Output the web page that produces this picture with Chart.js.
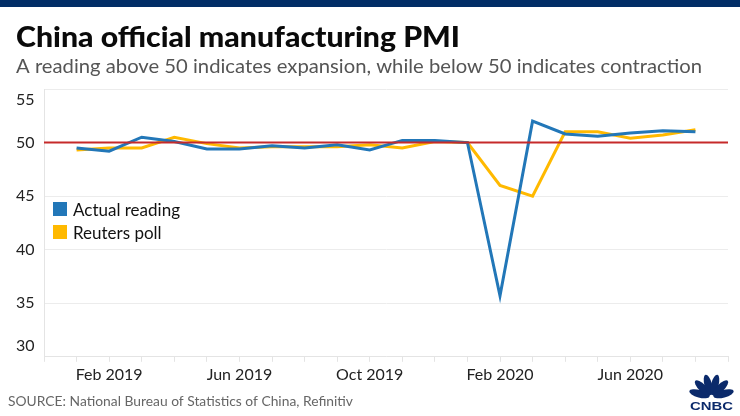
<!DOCTYPE html>
<html>
<head>
<meta charset="utf-8">
<script src="https://cdn.jsdelivr.net/npm/chart.js@4.4.1/dist/chart.umd.min.js"></script>
<style>
  html, body { margin: 0; padding: 0; background: #fff; }
  #wrap { position: relative; width: 740px; height: 416px; }
</style>
</head>
<body>
<div id="wrap"><canvas id="pmi" width="740" height="416"></canvas></div>
<script>
// months on the x axis (Dec 2018 and Sep 2020 are empty edges)
var months = ['Dec 2018','Jan 2019','Feb 2019','Mar 2019','Apr 2019','May 2019','Jun 2019','Jul 2019',
  'Aug 2019','Sep 2019','Oct 2019','Nov 2019','Dec 2019','Jan 2020','Feb 2020','Mar 2020',
  'Apr 2020','May 2020','Jun 2020','Jul 2020','Aug 2020','Sep 2020'];

var actualReading = [null, 49.5, 49.2, 50.5, 50.1, 49.4, 49.4, 49.7, 49.5, 49.8, 49.3, 50.2,
  50.2, 50.0, 35.7, 52.0, 50.8, 50.6, 50.9, 51.1, 51.0, null];

var reutersPoll = [null, 49.3, 49.5, 49.5, 50.5, 49.9, 49.5, 49.6, 49.6, 49.6, 49.8, 49.5,
  50.1, 50.0, 46.0, 45.0, 51.0, 51.0, 50.4, 50.7, 51.2, null];

var yTicks = [30, 35, 40, 45, 50, 55];
var threshold = 50;

var blue = '#2277b8';
var yellow = '#ffb900';
var red = '#c62a2a';

function fitText(ctx, txt, x, y, w) {
  var m = ctx.measureText(txt).width;
  ctx.save();
  ctx.translate(x, y);
  ctx.scale(w / m, 1);
  ctx.fillText(txt, 0, 0);
  ctx.restore();
}

// title, source, logo, y labels, legend, the red 50 line
var decor = {
  id: 'decor',
  afterDatasetsDraw: function(chart) {
    var ctx = chart.ctx, a = chart.chartArea, y = chart.scales.y;
    var py = y.getPixelForValue(threshold);
    ctx.save();
    ctx.strokeStyle = red;
    ctx.lineWidth = 2;
    ctx.beginPath();
    ctx.moveTo(a.left, py);
    ctx.lineTo(a.right, py);
    ctx.stroke();
    ctx.restore();
  },
  afterDraw: function(chart) {
    var ctx = chart.ctx, a = chart.chartArea, y = chart.scales.y;
    ctx.save();
    ctx.fillStyle = '#022d66';
    ctx.fillRect(0, 0, 740, 7);

    ctx.textBaseline = 'alphabetic';
    ctx.fillStyle = '#0a0a0a';
    ctx.font = '900 28px Lato';
    fitText(ctx, 'China official manufacturing PMI', 16, 47, 444);
    ctx.fillStyle = '#555';
    ctx.font = '19px Lato';
    fitText(ctx, 'A reading above 50 indicates expansion, while below 50 indicates contraction', 16, 73, 686);
    ctx.fillStyle = '#666';
    ctx.font = '13px Lato';
    fitText(ctx, 'SOURCE: National Bureau of Statistics of China, Refinitiv', 8, 406, 345);

    // y labels, kept inside the plot at the edges
    ctx.fillStyle = '#222';
    ctx.font = '16px Lato';
    ctx.textBaseline = 'middle';
    ctx.textAlign = 'left';
    yTicks.forEach(function(v) {
      var p = y.getPixelForValue(v);
      p = Math.min(Math.max(p, a.top + 11), a.bottom - 11);
      ctx.fillText(String(v), 16, p);
    });

    // legend
    ctx.font = '17px Lato';
    ctx.textBaseline = 'alphabetic';
    chart.data.datasets.forEach(function(ds, i) {
      var top = 202 + i * 23;
      ctx.fillStyle = ds.borderColor;
      ctx.fillRect(53, top, 14, 14);
      ctx.fillStyle = '#111';
      ctx.fillText(ds.label, 73, top + 13.5);
    });

    // CNBC peacock
    ctx.fillStyle = '#0b2a6b';
    var cx = 711.5, cy = 397;
    for (var k = 0; k < 6; k++) {
      var ang = Math.PI + (k + 0.5) * Math.PI / 6;
      ctx.save();
      ctx.translate(cx + Math.cos(ang) * 12.5, cy + Math.sin(ang) * 12.5);
      ctx.rotate(ang);
      ctx.beginPath();
      ctx.ellipse(0, 0, 10.5, 3.8, 0, 0, Math.PI * 2);
      ctx.fill();
      ctx.restore();
    }
    ctx.font = 'bold 11px "Liberation Sans"';
    fitText(ctx, 'CNBC', 690, 410, 43);
    ctx.restore();
  }
};

new Chart('pmi', {
  type: 'line',
  data: {
    labels: months,
    datasets: [{
      label: 'Actual reading',
      data: actualReading,
      borderColor: blue,
      backgroundColor: blue,
      borderWidth: 3,
      pointRadius: 0,
      fill: false
    }, {
      label: 'Reuters poll',
      data: reutersPoll,
      borderColor: yellow,
      backgroundColor: yellow,
      borderWidth: 3,
      pointRadius: 0,
      fill: false
    }]
  },
  plugins: [decor],
  options: {
    responsive: false,
    animation: false,
    layout: { padding: { left: 44, top: 89, right: 12, bottom: 29 } },
    plugins: { legend: { display: false }, tooltip: { enabled: false } },
    scales: {
      x: {
        offset: false,
        grid: { drawOnChartArea: false, drawTicks: true, tickLength: 5, color: '#e4e4e4' },
        border: { color: '#e4e4e4' },
        ticks: {
          autoSkip: false,
          maxRotation: 0,
          padding: 3,
          color: '#222',
          font: { family: 'Lato', size: 16 },
          callback: function(v) {
            var l = this.getLabelForValue(v);
            return /^(Feb|Jun|Oct)/.test(l) ? l : '';
          }
        }
      },
      y: {
        min: 30,
        max: 55,
        afterBuildTicks: function(s) { s.ticks = yTicks.map(function(v) { return { value: v }; }); },
        grid: { color: '#ececec', drawTicks: false },
        border: { color: '#e4e4e4' },
        ticks: { display: false }
      }
    }
  }
});
</script>
</body>
</html>
